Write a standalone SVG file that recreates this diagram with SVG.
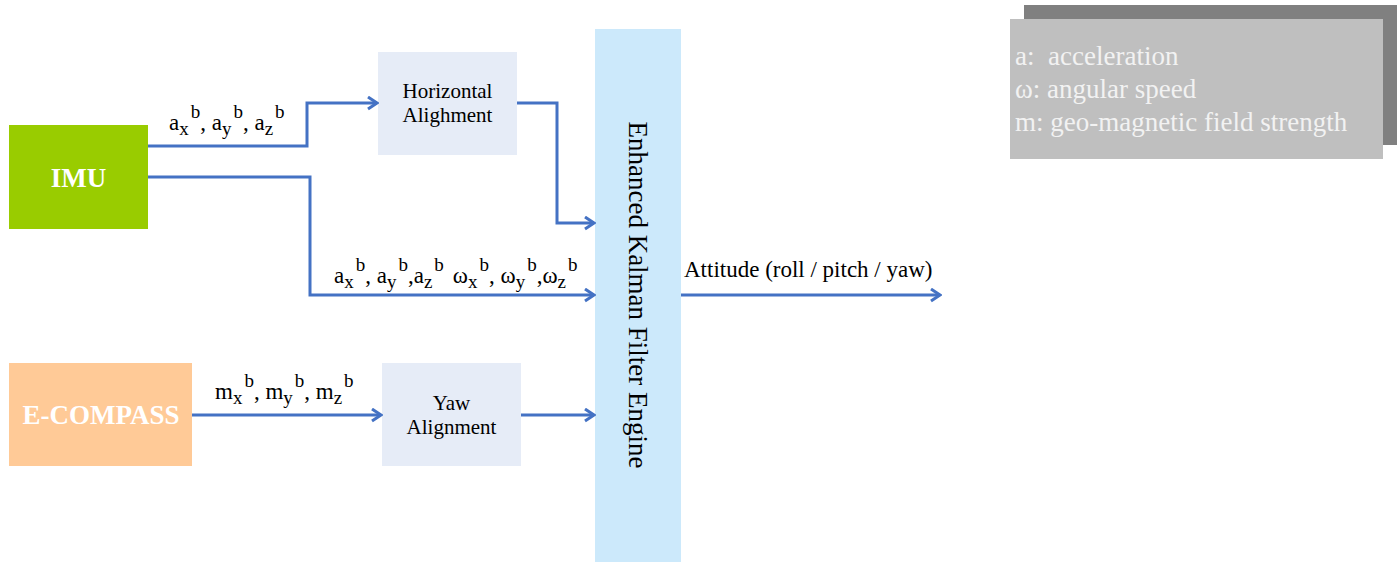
<svg xmlns="http://www.w3.org/2000/svg" width="1397" height="562" viewBox="0 0 1397 562">
<style>
text{font-family:"Liberation Serif","Times New Roman",serif}
.lbl{font-size:23px;fill:#000}
.sm{font-size:19px}
.box{font-size:21px;fill:#000}
.big{font-size:27px;font-weight:bold;fill:#fff}
.conn{fill:none;stroke:#4472C4;stroke-width:3}
.leg{font-size:27px;fill:#F2F2F2}
</style>
<defs>
<marker id="arr" viewBox="0 0 10 10" refX="9" refY="5" markerWidth="15" markerHeight="15" markerUnits="userSpaceOnUse" orient="auto">
<path d="M3,1 L9,5 L3,9" fill="none" stroke="#4472C4" stroke-width="2"/>
</marker>
</defs>
<rect width="1397" height="562" fill="#fff"/>
<g id="legend">
<rect x="1024" y="5" width="373" height="140" fill="#808080"/>
<rect x="1010" y="19" width="373" height="140" fill="#BFBFBF"/>
<text class="leg" x="1015" y="65" xml:space="preserve">a:  acceleration</text>
<text class="leg" x="1015" y="98">ω: angular speed</text>
<text class="leg" x="1015" y="131">m: geo-magnetic field strength</text>
</g>
<g id="imu">
<rect x="9" y="125" width="139" height="104" fill="#99CC00"/>
<text class="big" x="78.5" y="187" text-anchor="middle">IMU</text>
</g>
<g id="ecompass">
<rect x="9" y="363" width="183" height="103" fill="#FFCA97"/>
<text class="big" x="101" y="424" text-anchor="middle">E-COMPASS</text>
</g>
<g id="horizontal">
<rect x="378" y="52" width="139" height="103" fill="#E6ECF7"/>
<text class="box" x="447.5" y="98" text-anchor="middle">Horizontal</text>
<text class="box" x="447.5" y="122" text-anchor="middle">Alighment</text>
</g>
<g id="yaw">
<rect x="382" y="363" width="139" height="103" fill="#E6ECF7"/>
<text class="box" x="451.5" y="410" text-anchor="middle">Yaw</text>
<text class="box" x="451.5" y="434" text-anchor="middle">Alignment</text>
</g>
<g id="kalman">
<rect x="595" y="29" width="86" height="533" fill="#CCE9FB"/>
<text font-size="27" fill="#000" text-anchor="middle" transform="translate(629,295) rotate(90)">Enhanced Kalman Filter Engine</text>
</g>
<g id="connectors">
<polyline class="conn" points="148,146 307,146 307,103 377,103" marker-end="url(#arr)"/>
<polyline class="conn" points="148,177 310,177 310,295 594,295" marker-end="url(#arr)"/>
<polyline class="conn" points="517,103 557,103 557,223 594,223" marker-end="url(#arr)"/>
<line class="conn" x1="192" y1="415" x2="381" y2="415" marker-end="url(#arr)"/>
<line class="conn" x1="521" y1="415" x2="594" y2="415" marker-end="url(#arr)"/>
<line class="conn" x1="681" y1="295" x2="940" y2="295" marker-end="url(#arr)"/>
</g>
<g id="labels">
<text class="lbl" x="169" y="130">a<tspan class="sm" dy="5">x</tspan><tspan class="sm" dx="2" dy="-17">b</tspan><tspan dy="12">, a</tspan><tspan class="sm" dy="5">y</tspan><tspan class="sm" dx="2" dy="-17">b</tspan><tspan dy="12">, a</tspan><tspan class="sm" dy="5">z</tspan><tspan class="sm" dx="2" dy="-17">b</tspan></text>
<text class="lbl" x="334" y="283">a<tspan class="sm" dy="5">x</tspan><tspan class="sm" dx="2" dy="-17">b</tspan><tspan dy="12">, a</tspan><tspan class="sm" dy="5">y</tspan><tspan class="sm" dx="2" dy="-17">b</tspan><tspan dy="12">,a</tspan><tspan class="sm" dy="5">z</tspan><tspan class="sm" dx="2" dy="-17">b</tspan><tspan dx="9" dy="12">ω</tspan><tspan class="sm" dy="5">x</tspan><tspan class="sm" dx="2" dy="-17">b</tspan><tspan dy="12">, ω</tspan><tspan class="sm" dy="5">y</tspan><tspan class="sm" dx="2" dy="-17">b</tspan><tspan dy="12">,ω</tspan><tspan class="sm" dy="5">z</tspan><tspan class="sm" dx="2" dy="-17">b</tspan></text>
<text class="lbl" x="215" y="399">m<tspan class="sm" dy="5">x</tspan><tspan class="sm" dx="2" dy="-17">b</tspan><tspan dy="12">, m</tspan><tspan class="sm" dy="5">y</tspan><tspan class="sm" dx="2" dy="-17">b</tspan><tspan dy="12">, m</tspan><tspan class="sm" dy="5">z</tspan><tspan class="sm" dx="2" dy="-17">b</tspan></text>
<text class="lbl" x="684" y="277">Attitude (roll / pitch / yaw)</text>
</g>
</svg>
